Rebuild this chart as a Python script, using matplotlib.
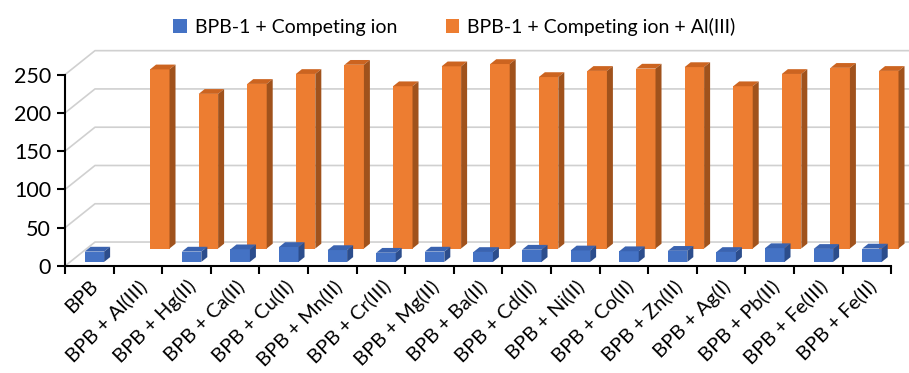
import matplotlib
matplotlib.use("Agg")
import matplotlib.pyplot as plt
from matplotlib.patches import Polygon, Patch
import numpy as np

plt.rcParams['font.family'] = ['Lato', 'DejaVu Sans']

categories = ["BPB", "BPB + Al(III)", "BPB + Hg(II)", "BPB + Ca(II)", "BPB + Cu(II)",
              "BPB + Mn(II)", "BPB + Cr(III)", "BPB + Mg(II)", "BPB + Ba(II)",
              "BPB + Cd(II)", "BPB + Ni(II)", "BPB + Co(II)", "BPB + Zn(II)",
              "BPB + Ag(I)", "BPB + Pb(II)", "BPB + Fe(III)", "BPB + Fe(II)"]
ion_only = [13.5, np.nan, 13.5, 16.5, 19.5, 15.5, 12, 13.5, 13, 16, 15, 14, 14.5,
            13, 18, 17, 17.5]
ion_al = [np.nan, 234, 202, 215, 228, 240, 212, 238, 241, 224, 232, 235, 237,
          212, 228, 236, 232]
series_names = ["BPB-1 + Competing ion", "BPB-1 + Competing ion + Al(III)"]

# oblique offset of the back wall (category units, value units)
OX, OY = 0.617, 31.3
BAR_W = 0.4

BLUE = ("#4472C4", "#3A63B0", "#2C4D8C")
ORANGE = ("#ED7D31", "#CC6420", "#A0521C")


def draw_box(ax, c, v, t0, t1, colors):
    front, top, side = colors
    xl = c - BAR_W / 2
    xr = c + BAR_W / 2
    x0, y0 = t0 * OX, t0 * OY
    x1, y1 = t1 * OX, t1 * OY
    ax.add_patch(Polygon([(xl + x0, y0), (xr + x0, y0), (xr + x0, v + y0), (xl + x0, v + y0)],
                         closed=True, facecolor=front, edgecolor='none'))
    ax.add_patch(Polygon([(xl + x0, v + y0), (xr + x0, v + y0), (xr + x1, v + y1), (xl + x1, v + y1)],
                         closed=True, facecolor=top, edgecolor='none'))
    ax.add_patch(Polygon([(xr + x0, y0), (xr + x1, y1), (xr + x1, v + y1), (xr + x0, v + y0)],
                         closed=True, facecolor=side, edgecolor='none'))


fig = plt.figure(figsize=(9.09, 3.73), dpi=100)
ax = fig.add_axes([65 / 909, 1 - 266 / 373, 844 / 909, 222 / 373])
n = len(categories)
ax.set_xlim(0, 844 / 48.6)
ax.set_ylim(0, 290)

# walls: diagonal floor/side lines and back gridlines
for v in range(0, 251, 50):
    ax.plot([0, OX, ax.get_xlim()[1]], [v, v + OY, v + OY], color="#D0D0D0", lw=1.2, zorder=0)

centers = np.arange(n) + 0.5
for c, v in zip(centers, ion_al):
    if not np.isnan(v):
        draw_box(ax, c, v, 0.73, 0.93, ORANGE)
for c, v in zip(centers, ion_only):
    if not np.isnan(v):
        draw_box(ax, c, v, 0.17, 0.37, BLUE)

for side in ["top", "right"]:
    ax.spines[side].set_visible(False)
ax.spines["left"].set_bounds(0, 250)
ax.spines["bottom"].set_bounds(0, n)
ax.spines["left"].set_linewidth(1.5)
ax.spines["bottom"].set_linewidth(1.5)

ax.set_yticks(range(0, 251, 50))
ax.tick_params(axis="y", length=6, width=1.5, labelsize=15.5, pad=4)
ax.set_xticks(centers)
ax.set_xticklabels(categories, rotation=45, ha="right", rotation_mode="anchor")
ax.set_xticks(np.arange(n + 1), minor=True)
ax.tick_params(axis="x", which="major", length=0, labelsize=14.5, pad=8)
ax.tick_params(axis="x", which="minor", length=6, width=1.5)

handles = [Patch(facecolor=BLUE[0]), Patch(facecolor=ORANGE[0])]
fig.legend(handles, series_names, loc="upper center", bbox_to_anchor=(0.5, 1.0), ncol=2,
           frameon=False, fontsize=14, handlelength=0.7, handleheight=0.7,
           handletextpad=0.4, columnspacing=2.5)

fig.savefig("out.png", dpi=100)
